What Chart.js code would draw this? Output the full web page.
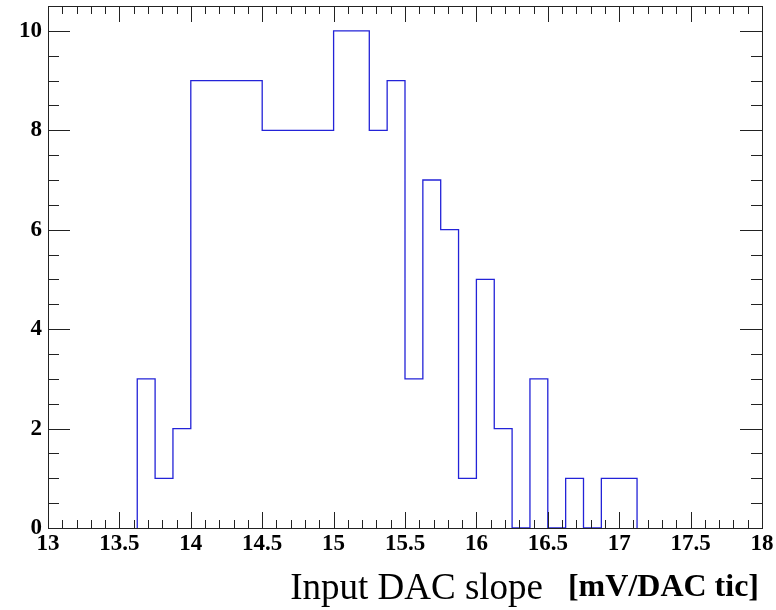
<!DOCTYPE html>
<html>
<head>
    <meta charset="UTF-8">
    <title>Input DAC slope</title>
    <script src="https://cdn.jsdelivr.net/npm/chart.js@4.4.1/dist/chart.umd.min.js"></script>
    <style>
        html, body { margin: 0; padding: 0; background: #fff; }
        #wrap { width: 776px; height: 610px; position: relative; }
    </style>
</head>
<body>
<div id="wrap">
    <canvas id="myChart" width="776" height="610"></canvas>
</div>
<script>
    // histogram bin edges (width 0.125) and entries per bin
    var binEdges = [13.625, 13.75, 13.875, 14.0, 14.125, 14.25, 14.375, 14.5, 14.625, 14.75, 14.875,
                    15.0, 15.125, 15.25, 15.375, 15.5, 15.625, 15.75, 15.875, 16.0, 16.125, 16.25,
                    16.375, 16.5, 16.625, 16.75, 16.875, 17.0, 17.125];
    var binCounts = [3, 1, 2, 9, 9, 9, 9, 8, 8, 8, 8,
                     10, 10, 8, 9, 3, 7, 6, 1, 5, 2, 0,
                     3, 0, 1, 0, 1, 1];
    var xTicks = [13, 13.5, 14, 14.5, 15, 15.5, 16, 16.5, 17, 17.5, 18];
    var yTicks = [0, 2, 4, 6, 8, 10];
    var xRange = [13, 18];
    var yRange = [0, 10.5];

    // step outline: each bin gives a flat top from its low edge to its high edge
    var points = [{x: binEdges[0], y: 0}];
    for (var i = 0; i < binCounts.length; i++) {
        points.push({x: binEdges[i], y: binCounts[i]});
        points.push({x: binEdges[i + 1], y: binCounts[i]});
    }
    points.push({x: binEdges[binEdges.length - 1], y: 0});

    var tickFont = {family: "'Liberation Serif', 'DejaVu Serif', serif", size: 23, weight: 'bold'};

    // ROOT style frame with inward ticks on all four sides
    var frameTicks = {
        id: 'frameTicks',
        afterDraw: function (chart) {
            var c = chart.ctx, a = chart.chartArea;
            var xs = chart.scales.x, ys = chart.scales.y;
            c.save();
            c.strokeStyle = '#222';
            c.lineWidth = 1;
            c.beginPath();
            var v, px, len, k;
            for (k = 0; k <= 50; k++) {
                v = xRange[0] + k * 0.1;
                px = Math.round(xs.getPixelForValue(v)) + 0.5;
                len = (k % 5 === 0) ? 16 : 8;
                c.moveTo(px, a.bottom); c.lineTo(px, a.bottom - len);
                c.moveTo(px, a.top); c.lineTo(px, a.top + len);
            }
            for (k = 0; k <= 21; k++) {
                v = k * 0.5;
                px = Math.round(ys.getPixelForValue(v)) + 0.5;
                len = (k % 4 === 0) ? 22 : 11;
                c.moveTo(a.left, px); c.lineTo(a.left + len, px);
                c.moveTo(a.right, px); c.lineTo(a.right - len, px);
            }
            c.stroke();
            c.strokeRect(Math.round(a.left) + 0.5, Math.round(a.top) + 0.5,
                         Math.round(a.right - a.left), Math.round(a.bottom - a.top));
            // axis title
            c.fillStyle = '#000';
            c.textAlign = 'right';
            c.textBaseline = 'alphabetic';
            c.font = "bold 32px 'Liberation Serif', serif";
            c.fillText('[mV/DAC tic]', 759, 596);
            c.font = "37px 'Liberation Serif', serif";
            c.fillText('Input DAC slope', 543, 599);
            c.restore();
        }
    };

    var ctx = document.getElementById('myChart').getContext('2d');
    var chart = new Chart(ctx, {
        type: 'line',
        data: {
            datasets: [{
                data: points,
                borderColor: '#2323d8',
                borderWidth: 1.3,
                pointRadius: 0,
                tension: 0,
                fill: false
            }]
        },
        options: {
            responsive: false,
            animation: false,
            layout: {padding: {top: 6, right: 14, left: 0, bottom: 0}},
            plugins: {legend: {display: false}, tooltip: {enabled: false}},
            scales: {
                x: {
                    type: 'linear',
                    min: xRange[0],
                    max: xRange[1],
                    afterFit: function (s) { s.height = 82; s.paddingLeft = 0; s.paddingRight = 0; },
                    afterBuildTicks: function (s) { s.ticks = xTicks.map(function (t) { return {value: t}; }); },
                    grid: {display: false, drawTicks: false},
                    border: {display: false},
                    ticks: {
                        color: '#000', font: tickFont, padding: 2, maxRotation: 0, autoSkip: false,
                        callback: function (value) { return String(value); }
                    }
                },
                y: {
                    min: yRange[0],
                    max: yRange[1],
                    afterFit: function (s) { s.width = 48; s.paddingTop = 0; s.paddingBottom = 0; },
                    afterBuildTicks: function (s) { s.ticks = yTicks.map(function (t) { return {value: t}; }); },
                    grid: {display: false, drawTicks: false},
                    border: {display: false},
                    ticks: {
                        color: '#000', font: tickFont, padding: 6,
                        callback: function (value) { return String(value); }
                    }
                }
            }
        },
        plugins: [frameTicks]
    });
</script>
</body>
</html>
